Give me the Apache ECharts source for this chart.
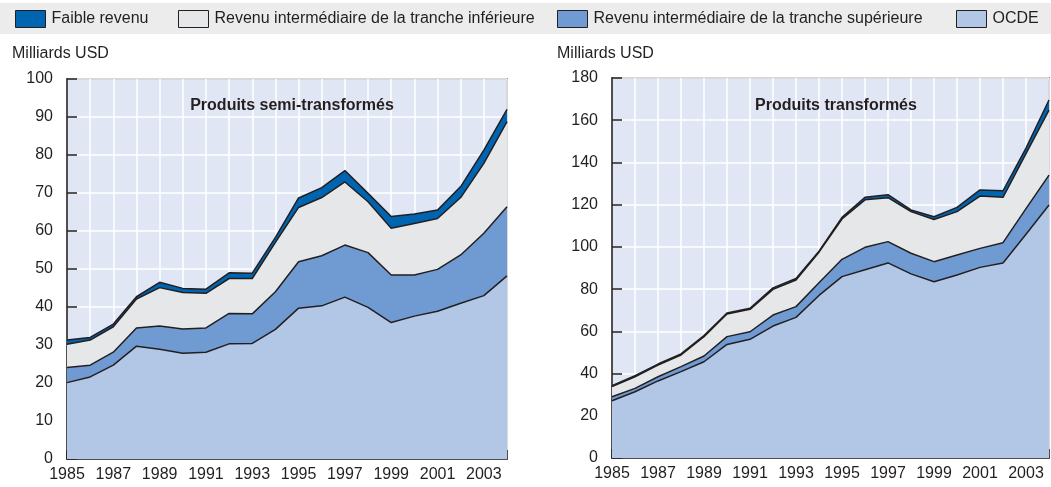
<!DOCTYPE html>
<html>
<head>
<meta charset="utf-8">
<script src="https://cdn.jsdelivr.net/npm/echarts@6/dist/echarts.min.js"></script>
<style>
    html, body { margin: 0; padding: 0; background: #fff; }
    #chart { width: 1051px; height: 487px; }
</style>
</head>
<body>
<div id="chart"></div>
<script>
    // années 1985-2004
    var years = ['1985', '1986', '1987', '1988', '1989', '1990', '1991', '1992', '1993', '1994',
                 '1995', '1996', '1997', '1998', '1999', '2000', '2001', '2002', '2003', '2004'];

    var seriesNames = ['Faible revenu', 'Revenu intermédiaire de la tranche inférieure',
                       'Revenu intermédiaire de la tranche supérieure', 'OCDE'];

    // Produits semi-transformés (milliards USD)
    var semiOcde = [20.1, 21.6, 24.7, 29.7, 28.9, 27.8, 28.1, 30.3, 30.4, 34.1, 39.7, 40.3, 42.6, 39.9, 35.9, 37.6, 38.9, 41.0, 43.0, 48.2];
    var semiSup = [4.0, 3.1, 3.4, 4.8, 6.1, 6.4, 6.4, 8.0, 7.8, 9.9, 12.2, 13.2, 13.7, 14.4, 12.5, 10.8, 11.0, 12.7, 16.4, 18.2];
    var semiInf = [6.1, 6.6, 6.7, 7.6, 10.1, 9.6, 9.1, 9.2, 9.3, 13.0, 14.3, 15.3, 16.6, 13.4, 12.3, 13.6, 13.4, 15.1, 18.4, 22.4];
    var semiFaible = [1.1, 0.7, 0.7, 0.6, 1.4, 1.1, 1.1, 1.5, 1.4, 1.3, 2.5, 2.6, 3.0, 2.2, 3.1, 2.5, 2.2, 2.9, 3.5, 3.2];

    // Produits transformés (milliards USD)
    var transOcde = [27.1, 31.4, 36.5, 40.9, 45.6, 53.8, 56.2, 62.5, 66.6, 77.0, 85.9, 89.2, 92.4, 87.2, 83.5, 86.7, 90.3, 92.4, 106.0, 119.8];
    var transSup = [1.9, 1.6, 2.0, 2.4, 2.7, 3.7, 3.6, 5.2, 5.1, 6.0, 8.2, 10.6, 10.1, 9.8, 9.5, 9.5, 9.0, 9.6, 12.1, 14.2];
    var transInf = [4.8, 5.5, 5.5, 5.5, 9.2, 10.7, 10.6, 12.2, 12.6, 14.5, 19.1, 22.5, 20.8, 19.7, 20.0, 20.5, 24.8, 21.5, 26.1, 30.8];
    var transFaible = [0.5, 0.5, 0.5, 0.5, 0.5, 0.5, 0.5, 0.7, 0.7, 0.5, 0.8, 1.2, 1.4, 0.8, 1.3, 2.0, 2.9, 3.1, 2.6, 4.8];

    var colors = ['#0065b1', '#e6e7e9', '#6f9bd2', '#b2c6e6'];
    var font = "'Liberation Sans Narrow', 'Arial Narrow', 'Liberation Sans', sans-serif";
    var ink = '#231f20';

    function areaSeries(name, data, color, idx, stack) {
        return {
            name: name,
            type: 'line',
            stack: stack,
            xAxisIndex: idx,
            yAxisIndex: idx,
            data: data,
            symbol: 'none',
            itemStyle: { color: color },
            lineStyle: { color: ink, width: 1.5 },
            areaStyle: { color: color, opacity: 1 },
            emphasis: { disabled: true },
            animation: false
        };
    }

    function xAxis(idx) {
        return {
            type: 'category',
            gridIndex: idx,
            data: years,
            boundaryGap: false,
            axisLine: { lineStyle: { color: ink, width: 1.5 } },
            axisTick: { inside: true, interval: 0, length: 9, lineStyle: { color: ink, width: 1.5 } },
            axisLabel: { interval: 1, color: ink, fontSize: 16, fontFamily: font, margin: 8 },
            splitLine: { show: true, interval: 0, lineStyle: { color: '#ffffff', width: 1.5 } }
        };
    }

    function yAxis(idx, max, step) {
        return {
            type: 'value',
            gridIndex: idx,
            min: 0,
            max: max,
            interval: step,
            axisLine: { show: true, lineStyle: { color: ink, width: 1.5 } },
            axisTick: { show: true, inside: true, length: 10, lineStyle: { color: ink, width: 1.5 } },
            axisLabel: { color: ink, fontSize: 16, fontFamily: font, margin: 14 },
            splitLine: { show: true, lineStyle: { color: '#ffffff', width: 1.5 } }
        };
    }

    function legend(name, left) {
        return {
            data: [name],
            left: left,
            top: 10,
            padding: 0,
            icon: 'rect',
            itemWidth: 30,
            itemHeight: 17,
            itemGap: 0,
            selectedMode: false,
            itemStyle: { borderColor: ink, borderWidth: 1 },
            textStyle: { color: ink, fontSize: 16, fontFamily: font, padding: [0, 0, 0, 1] }
        };
    }

    var chart = echarts.init(document.getElementById('chart'));
    chart.setOption({
        animation: false,
        color: colors,
        graphic: [{
            type: 'rect',
            left: 0,
            top: 3,
            shape: { width: 1051, height: 31 },
            style: { fill: '#ececec' },
            z: -10
        }],
        legend: [
            legend(seriesNames[0], 15),
            legend(seriesNames[1], 178),
            legend(seriesNames[2], 557),
            legend(seriesNames[3], 956)
        ],
        title: [
            { text: 'Milliards USD', left: 7, top: 41, textStyle: { color: ink, fontSize: 16, fontWeight: 'normal', fontFamily: font } },
            { text: 'Milliards USD', left: 552, top: 41, textStyle: { color: ink, fontSize: 16, fontWeight: 'normal', fontFamily: font } },
            { text: 'Produits semi-transformés', left: 287, top: 93, textAlign: 'center', textStyle: { color: ink, fontSize: 16, fontWeight: 'bold', fontFamily: font } },
            { text: 'Produits transformés', left: 831, top: 93, textAlign: 'center', textStyle: { color: ink, fontSize: 16, fontWeight: 'bold', fontFamily: font } }
        ],
        grid: [
            { left: 67, top: 79, width: 440, height: 380, show: true, backgroundColor: '#e1e6f4', borderColor: '#3a3a3a', borderWidth: 1.5 },
            { left: 612, top: 78, width: 437, height: 380, show: true, backgroundColor: '#e1e6f4', borderColor: '#3a3a3a', borderWidth: 1.5 }
        ],
        xAxis: [xAxis(0), xAxis(1)],
        yAxis: [yAxis(0, 100, 10), yAxis(1, 180, 20)],
        series: [
            areaSeries(seriesNames[3], semiOcde, colors[3], 0, 'semi'),
            areaSeries(seriesNames[2], semiSup, colors[2], 0, 'semi'),
            areaSeries(seriesNames[1], semiInf, colors[1], 0, 'semi'),
            areaSeries(seriesNames[0], semiFaible, colors[0], 0, 'semi'),
            areaSeries(seriesNames[3], transOcde, colors[3], 1, 'trans'),
            areaSeries(seriesNames[2], transSup, colors[2], 1, 'trans'),
            areaSeries(seriesNames[1], transInf, colors[1], 1, 'trans'),
            areaSeries(seriesNames[0], transFaible, colors[0], 1, 'trans')
        ]
    });
</script>
</body>
</html>
